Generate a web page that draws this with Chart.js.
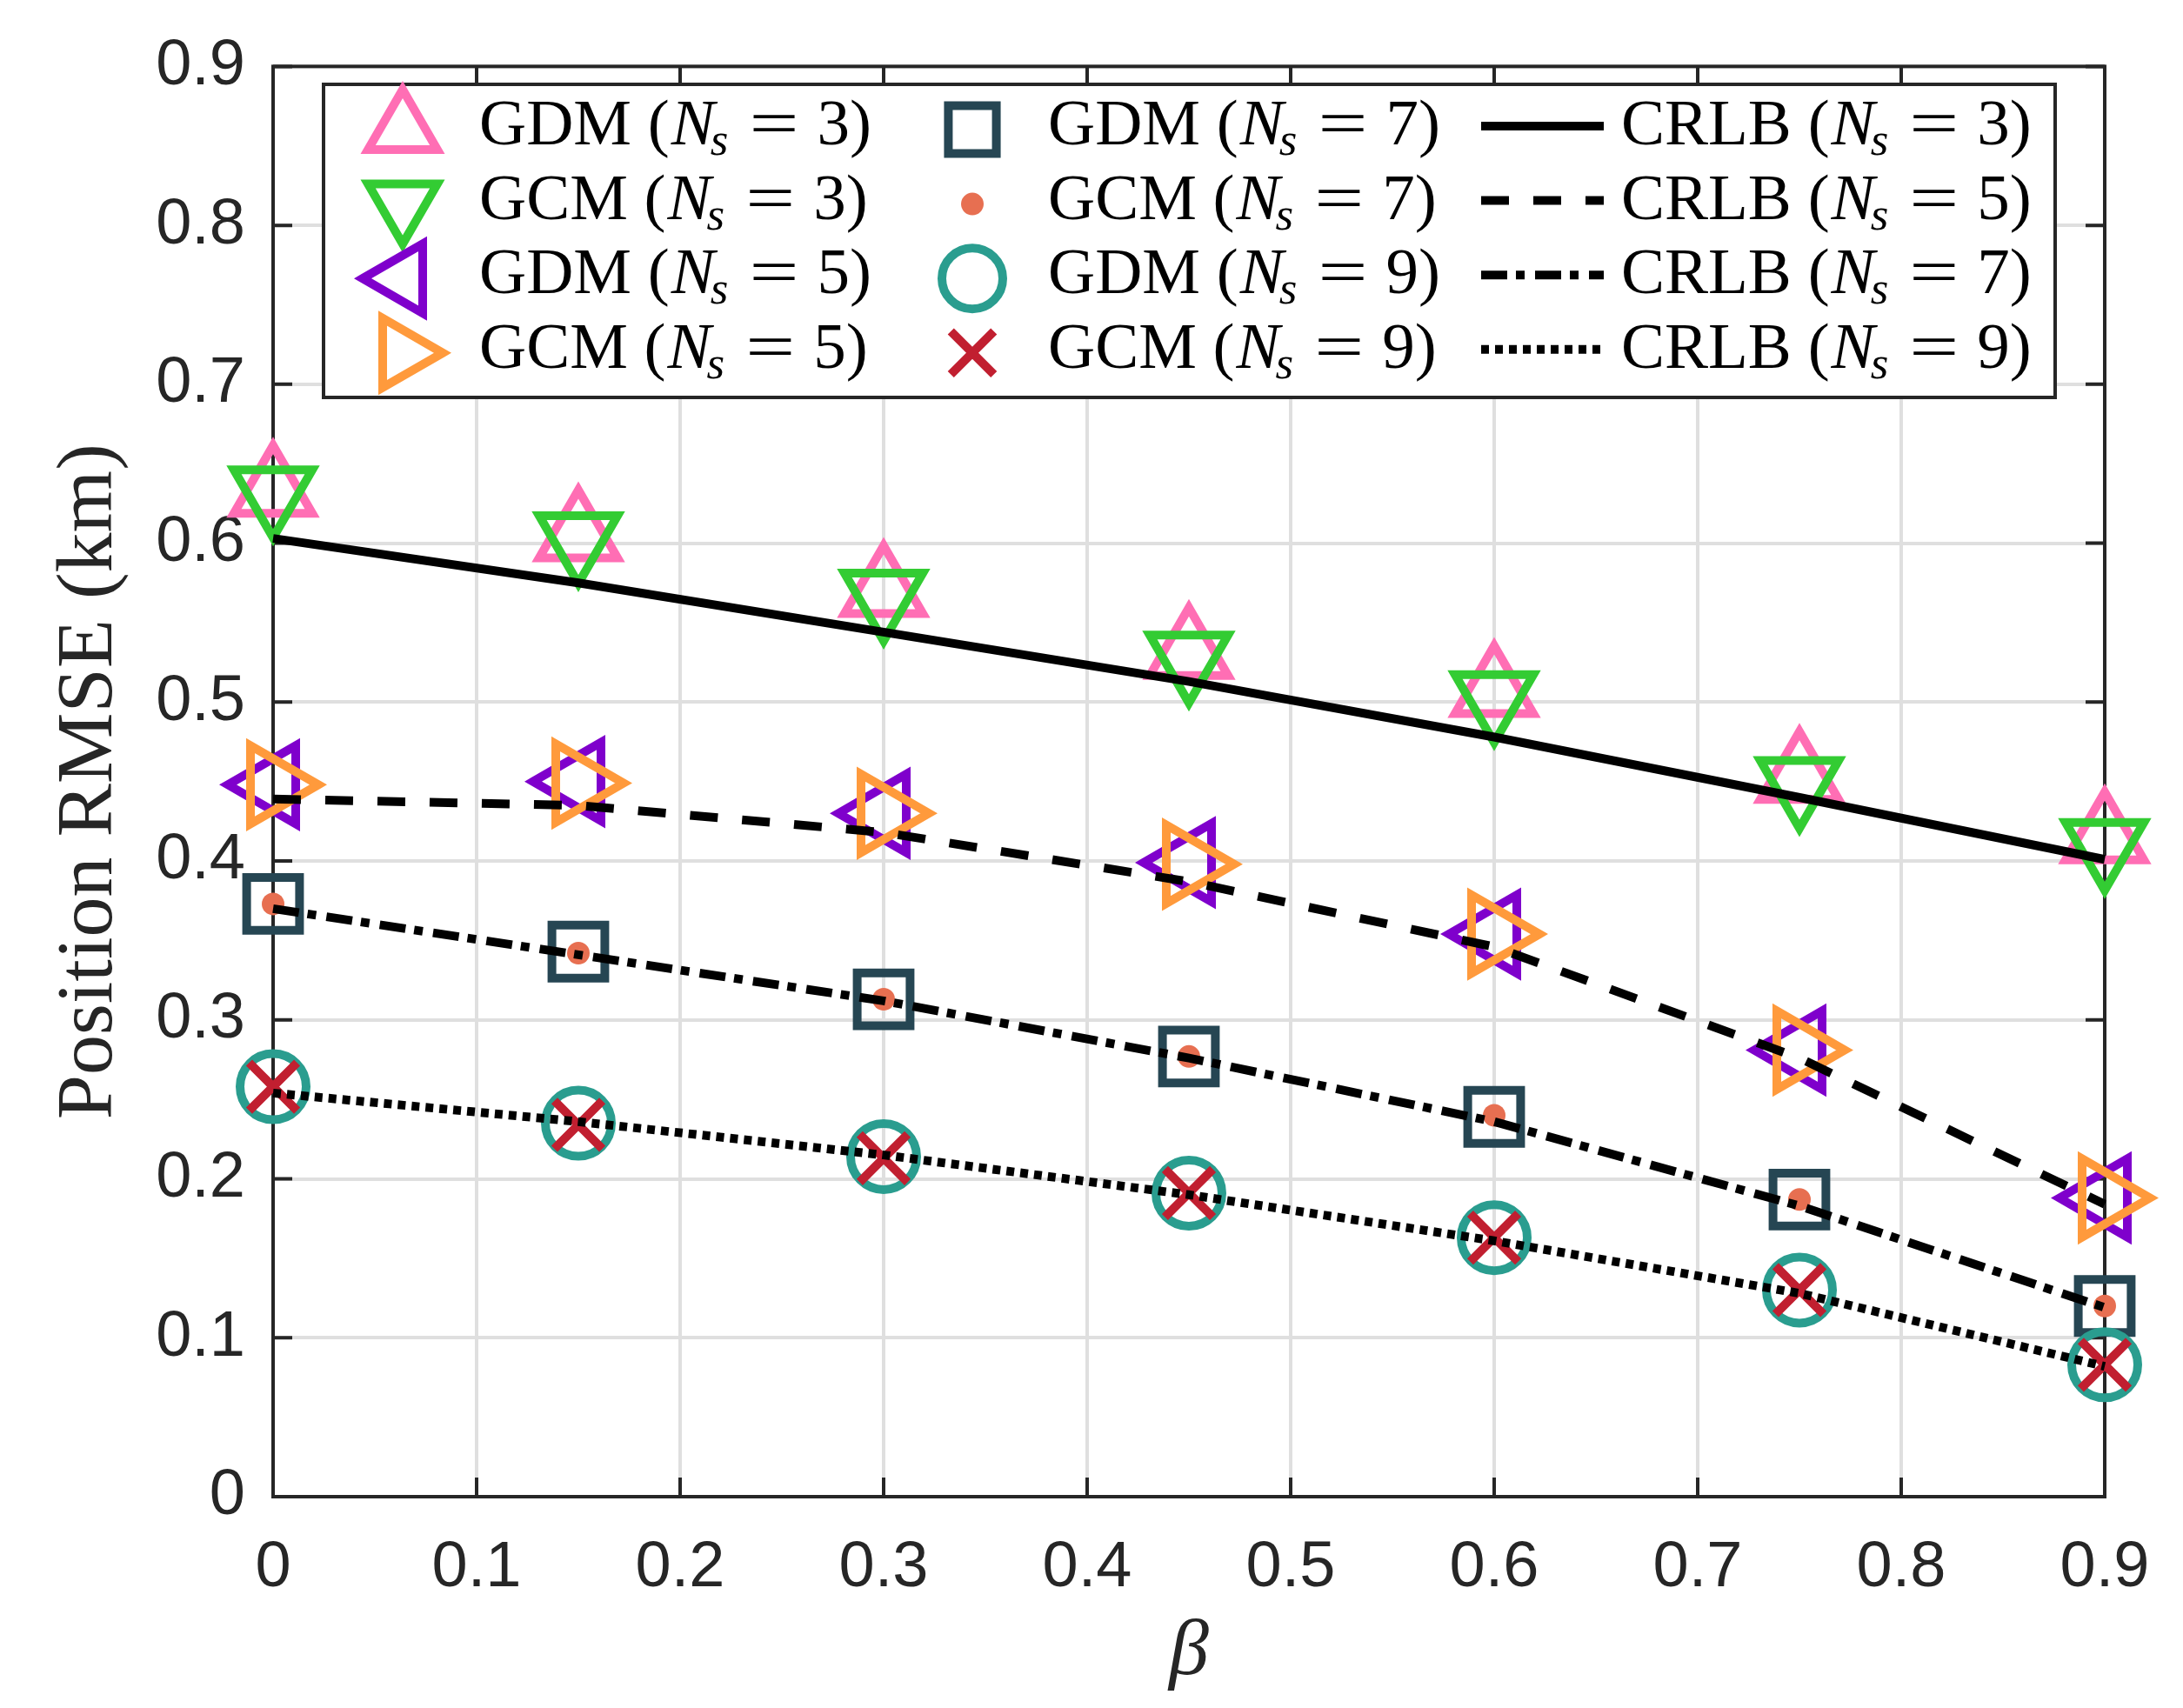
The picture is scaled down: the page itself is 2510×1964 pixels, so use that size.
<!DOCTYPE html>
<html>
<head>
<meta charset="utf-8">
<script src="https://cdn.jsdelivr.net/npm/chart.js@4.4.1/dist/chart.umd.min.js"></script>
<style>
html, body { margin: 0; padding: 0; background: #fff; overflow: hidden; }
</style>
</head>
<body>
<canvas id="chartRMSE" width="2510" height="1964"></canvas>
<script>
// beta values on the x axis
const beta = [0, 0.15, 0.3, 0.45, 0.6, 0.75, 0.9];

// Position RMSE (km)
const gdm3 = [0.633, 0.605, 0.570, 0.531, 0.507, 0.453, 0.415];
const gcm3 = [0.632, 0.603, 0.567, 0.528, 0.503, 0.449, 0.410];
const gdm5 = [0.448, 0.450, 0.430, 0.399, 0.354, 0.281, 0.188];
const gcm5 = [0.448, 0.449, 0.430, 0.398, 0.354, 0.281, 0.188];
const gdm7 = [0.373, 0.343, 0.313, 0.277, 0.239, 0.187, 0.120];
const gcm7 = [0.373, 0.342, 0.313, 0.277, 0.240, 0.187, 0.120];
const gdm9 = [0.258, 0.235, 0.214, 0.191, 0.163, 0.130, 0.083];
const gcm9 = [0.258, 0.234, 0.213, 0.191, 0.163, 0.130, 0.083];
const crlb3 = [0.603, 0.575, 0.544, 0.513, 0.478, 0.440, 0.401];
const crlb5 = [0.439, 0.435, 0.418, 0.387, 0.346, 0.276, 0.184];
const crlb7 = [0.370, 0.341, 0.312, 0.276, 0.236, 0.183, 0.119];
const crlb9 = [0.254, 0.236, 0.215, 0.190, 0.161, 0.128, 0.082];

const xTicks = [0, 0.1, 0.2, 0.3, 0.4, 0.5, 0.6, 0.7, 0.8, 0.9];
const yTicks = [0, 0.1, 0.2, 0.3, 0.4, 0.5, 0.6, 0.7, 0.8, 0.9];

function pts(values) {
    return beta.map((b, i) => ({x: b, y: values[i]}));
}

// marker series (legend columns 1 and 2)
const markerSeries = [
    {name: 'GDM', ns: 3, values: gdm3, color: '#FF6EB4', style: 'triangle', rot: 0,   r: 52, lr: 46, filled: false},
    {name: 'GCM', ns: 3, values: gcm3, color: '#33CC33', style: 'triangle', rot: 180, r: 52, lr: 46, filled: false},
    {name: 'GDM', ns: 5, values: gdm5, color: '#7F00CC', style: 'triangle', rot: -90, r: 52, lr: 46, filled: false},
    {name: 'GCM', ns: 5, values: gcm5, color: '#FF9A3C', style: 'triangle', rot: 90,  r: 52, lr: 46, filled: false},
    {name: 'GDM', ns: 7, values: gdm7, color: '#264653', style: 'rect',     rot: 0,   r: 43, lr: 39, filled: false},
    {name: 'GCM', ns: 7, values: gcm7, color: '#E76F51', style: 'circle',   rot: 0,   r: 13, lr: 13, filled: true},
    {name: 'GDM', ns: 9, values: gdm9, color: '#2A9D8F', style: 'circle',   rot: 0,   r: 38, lr: 35, filled: false},
    {name: 'GCM', ns: 9, values: gcm9, color: '#C11F30', style: 'crossRot', rot: 0,   r: 39, lr: 35, filled: false}
];

// bound curves (legend column 3)
const lineSeries = [
    {name: 'CRLB', ns: 3, values: crlb3, dash: []},
    {name: 'CRLB', ns: 5, values: crlb5, dash: [32, 28]},
    {name: 'CRLB', ns: 7, values: crlb7, dash: [30, 10, 10, 12]},
    {name: 'CRLB', ns: 9, values: crlb9, dash: [9, 7]}
];

const datasets = [];
markerSeries.forEach((s, i) => {
    datasets.push({
        label: s.name + ' Ns=' + s.ns,
        data: pts(s.values),
        showLine: false,
        pointStyle: s.style,
        pointRotation: s.rot,
        pointRadius: s.r,
        pointHoverRadius: s.r,
        pointBorderWidth: s.filled ? 0 : 10,
        pointBorderColor: s.color,
        pointBackgroundColor: s.filled ? s.color : 'rgba(0,0,0,0)',
        clip: false,
        order: 20 - i
    });
});
lineSeries.forEach((s, i) => {
    datasets.push({
        label: s.name + ' Ns=' + s.ns,
        data: pts(s.values),
        showLine: true,
        borderColor: '#000',
        borderWidth: 10,
        borderDash: s.dash,
        borderCapStyle: 'butt',
        pointRadius: 0,
        pointHoverRadius: 0,
        tension: 0,
        fill: false,
        clip: false,
        order: 4 - i
    });
});

const axisColor = '#262626';

// box round the plot and MATLAB style inward ticks
const framePlugin = {
    id: 'frame',
    beforeDatasetsDraw(chart) {
        const {ctx, chartArea: a, scales: {x, y}} = chart;
        ctx.save();
        ctx.strokeStyle = axisColor;
        ctx.lineWidth = 4;
        ctx.setLineDash([]);
        ctx.beginPath();
        xTicks.forEach(t => {
            const px = x.getPixelForValue(t);
            ctx.moveTo(px, a.bottom); ctx.lineTo(px, a.bottom - 22);
            ctx.moveTo(px, a.top); ctx.lineTo(px, a.top + 22);
        });
        yTicks.forEach(t => {
            const py = y.getPixelForValue(t);
            ctx.moveTo(a.left, py); ctx.lineTo(a.left + 22, py);
            ctx.moveTo(a.right, py); ctx.lineTo(a.right - 22, py);
        });
        ctx.stroke();
        ctx.strokeRect(a.left, a.top, a.right - a.left, a.bottom - a.top);
        ctx.restore();
    }
};

function drawEntryText(ctx, x, baseline, name, ns) {
    const fam = '"Liberation Serif", "Times New Roman", serif';
    ctx.fillStyle = '#000';
    ctx.textBaseline = 'alphabetic';
    ctx.textAlign = 'left';
    ctx.font = '75px ' + fam;
    ctx.fillText(name + ' (', x, baseline);
    x += ctx.measureText(name + ' (').width + 2;
    ctx.font = 'italic 75px ' + fam;
    ctx.fillText('N', x, baseline);
    x += ctx.measureText('N').width - 5;
    ctx.font = 'italic 53px ' + fam;
    ctx.fillText('s', x, baseline + 12);
    x += ctx.measureText('s').width + 24;
    ctx.font = '75px ' + fam;
    const eqW = ctx.measureText('=').width;
    ctx.save();
    ctx.translate(x, baseline);
    ctx.scale(57 / eqW, 1);
    ctx.fillText('=', 0, 0);
    ctx.restore();
    x += 57 + 21;
    ctx.fillText(ns + ')', x, baseline);
}

// three column legend inside the axes
const legendPlugin = {
    id: 'boxLegend',
    afterDraw(chart) {
        const ctx = chart.ctx;
        const box = {left: 372, top: 97, right: 2363, bottom: 457};
        const rowBase = r => 166 + r * 85.6;
        ctx.save();
        ctx.fillStyle = '#fff';
        ctx.fillRect(box.left, box.top, box.right - box.left, box.bottom - box.top);
        ctx.strokeStyle = axisColor;
        ctx.lineWidth = 4;
        ctx.strokeRect(box.left, box.top, box.right - box.left, box.bottom - box.top);

        markerSeries.forEach((s, i) => {
            const col = Math.floor(i / 4), row = i % 4;
            const mx = col === 0 ? 463 : 1118;
            const tx = col === 0 ? 551 : 1205;
            const base = rowBase(row);
            ctx.save();
            ctx.strokeStyle = s.color;
            ctx.fillStyle = s.filled ? s.color : 'rgba(0,0,0,0)';
            ctx.lineWidth = s.filled ? 0 : 10;
            ctx.setLineDash([]);
            Chart.helpers.drawPoint(ctx, {
                pointStyle: s.style, rotation: s.rot, radius: s.lr,
                borderWidth: s.filled ? 0 : 10
            }, mx, base - 17);
            ctx.restore();
            drawEntryText(ctx, tx, base, s.name, s.ns);
        });

        lineSeries.forEach((s, row) => {
            const base = rowBase(row);
            ctx.save();
            ctx.strokeStyle = '#000';
            ctx.lineWidth = 10;
            ctx.lineCap = 'butt';
            ctx.setLineDash(s.dash);
            ctx.beginPath();
            ctx.moveTo(1703, base - 21);
            ctx.lineTo(1844, base - 21);
            ctx.stroke();
            ctx.restore();
            drawEntryText(ctx, 1864, base, s.name, s.ns);
        });
        ctx.restore();
    }
};

const tickFont = {family: '"Liberation Sans", Arial, sans-serif', size: 74};

const chartRMSE = new Chart(document.getElementById('chartRMSE'), {
    type: 'line',
    data: {datasets: datasets},
    options: {
        responsive: false,
        devicePixelRatio: 1,
        animation: false,
        events: [],
        layout: {padding: {left: 0, right: 90, top: 70, bottom: 0}},
        plugins: {
            legend: {display: false},
            tooltip: {enabled: false}
        },
        scales: {
            x: {
                type: 'linear',
                min: 0,
                max: 0.9,
                afterFit: scale => { scale.height = 243; },
                afterBuildTicks: scale => { scale.ticks = xTicks.map(v => ({value: v})); },
                ticks: {
                    font: tickFont,
                    color: axisColor,
                    padding: 38,
                    maxRotation: 0,
                    autoSkip: false,
                    callback: v => v === 0 ? '0' : v.toFixed(1)
                },
                grid: {color: '#dfdfdf', lineWidth: 4, drawTicks: false},
                border: {display: false},
                title: {
                    display: true,
                    text: 'β',
                    color: axisColor,
                    font: {family: '"Liberation Serif", serif', size: 92, style: 'italic'},
                    padding: {top: 0, bottom: 8}
                }
            },
            y: {
                type: 'linear',
                min: 0,
                max: 0.9,
                afterFit: scale => { scale.width = 314; },
                afterBuildTicks: scale => { scale.ticks = yTicks.map(v => ({value: v})); },
                ticks: {
                    font: tickFont,
                    color: axisColor,
                    padding: 32,
                    autoSkip: false,
                    callback: v => v === 0 ? '0' : v.toFixed(1)
                },
                grid: {color: '#dfdfdf', lineWidth: 4, drawTicks: false},
                border: {display: false},
                title: {
                    display: true,
                    text: 'Position RMSE (km)',
                    color: axisColor,
                    font: {family: '"Liberation Serif", serif', size: 92},
                    padding: {top: 49, bottom: 0}
                }
            }
        }
    },
    plugins: [framePlugin, legendPlugin]
});
</script>
</body>
</html>
